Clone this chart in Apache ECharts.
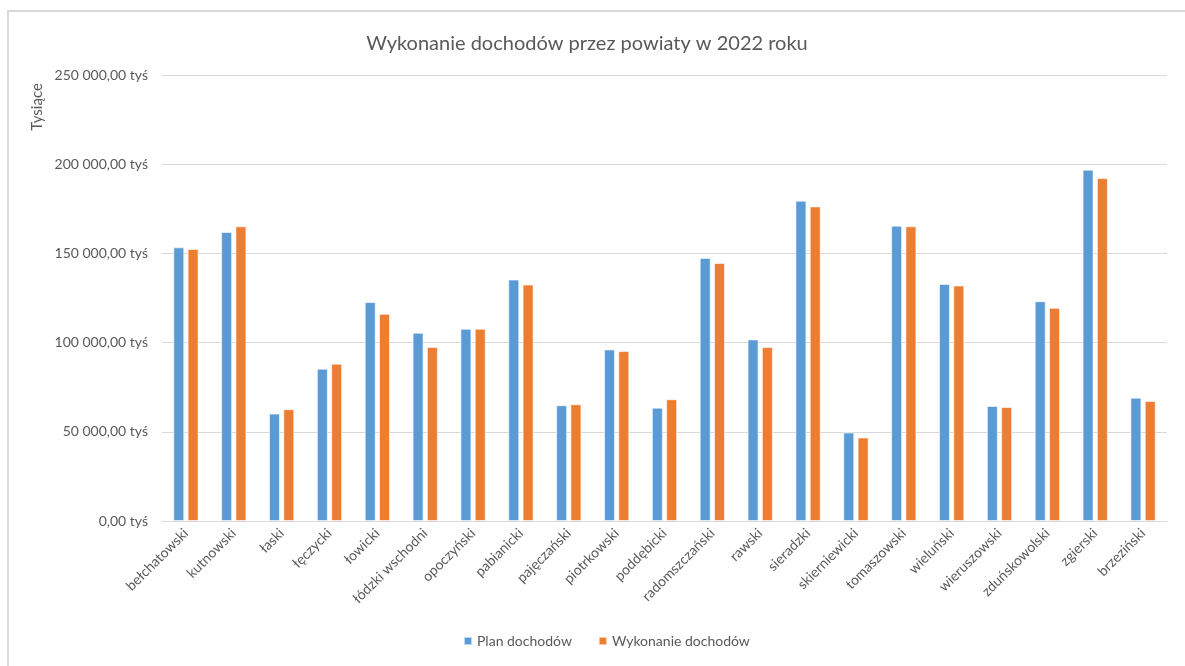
<!DOCTYPE html>
<html>
<head>
<meta charset="utf-8">
<script src="https://cdn.jsdelivr.net/npm/echarts@6/dist/echarts.min.js"></script>
<style>
  html, body { margin: 0; padding: 0; background: #fff; overflow: hidden; }
  #frame {
    position: absolute; left: 7px; top: 10px; width: 1300px; height: 800px;
    border-left: 2px solid #d9d9d9; border-top: 2px solid #d9d9d9;
  }
  #main { position: absolute; left: 0; top: 0; width: 1185px; height: 666px; }
</style>
</head>
<body>
<div id="frame"></div>
<div id="main"></div>
<script>
const powiaty = [
  'bełchatowski', 'kutnowski', 'łaski', 'łęczycki', 'łowicki', 'łódzki wschodni',
  'opoczyński', 'pabianicki', 'pajęczański', 'piotrkowski', 'poddębicki',
  'radomszczański', 'rawski', 'sieradzki', 'skierniewicki', 'tomaszowski',
  'wieluński', 'wieruszowski', 'zduńskowolski', 'zgierski', 'brzeziński'
];

// values in thousands (tys. zł)
const planDochodow = [
  153400, 162000, 60200, 85400, 122700, 105500,
  107750, 135350, 64900, 96200, 63550,
  147450, 101800, 179550, 49600, 165550,
  132900, 64500, 123200, 196900, 69150
];
const wykonanieDochodow = [
  152500, 165200, 62650, 88200, 116150, 97500,
  107750, 132550, 65450, 95250, 68250,
  144650, 97500, 176350, 46800, 165200,
  132000, 63950, 119500, 192200, 67300
];

const yTicks = [0, 50000, 100000, 150000, 200000, 250000];

const textColor = '#595959';
const fontFamily = 'Lato, "Open Sans", sans-serif';

// 250000 -> "250 000,00 tyś"
function formatTys(v) {
  const s = String(Math.round(v)).replace(/\B(?=(\d{3})+(?!\d))/g, ' ');
  return s + ',00 tyś';
}

const myChart = echarts.init(document.getElementById('main'));

const option = {
  animation: false,
  textStyle: { fontFamily: fontFamily, color: textColor },
  title: {
    text: 'Wykonanie dochodów przez powiaty w 2022 roku',
    left: 582,
    top: 29,
    textAlign: 'center',
    textStyle: {
      color: textColor,
      fontSize: 20,
      fontWeight: 'normal',
      fontFamily: fontFamily,
    },
  },
  graphic: [
    {
      type: 'text',
      x: 37,
      y: 107,
      rotation: Math.PI / 2,
      style: {
        text: 'Tysiące',
        fill: textColor,
        font: '15px ' + fontFamily,
        textAlign: 'center',
        textVerticalAlign: 'middle',
      },
    },
  ],
  legend: {
    bottom: 13,
    left: 458,
    itemWidth: 8,
    itemHeight: 8,
    itemGap: 26,
    icon: 'rect',
    textStyle: { color: textColor, fontSize: 14, fontFamily: fontFamily },
    data: ['Plan dochodów', 'Wykonanie dochodów'],
  },
  grid: {
    left: 162,
    right: 18,
    top: 75,
    bottom: 145,
  },
  xAxis: {
    type: 'category',
    data: powiaty,
    axisLine: { lineStyle: { color: '#d9d9d9', width: 1 } },
    axisTick: { show: false },
    axisLabel: {
      rotate: 45,
      color: textColor,
      fontSize: 14,
      fontFamily: fontFamily,
      interval: 0,
      margin: 10,
    },
  },
  yAxis: {
    type: 'value',
    min: yTicks[0],
    max: yTicks[yTicks.length - 1],
    interval: 50000,
    axisLine: { show: false },
    axisTick: { show: false },
    splitLine: { lineStyle: { color: '#d9d9d9', width: 1 } },
    axisLabel: {
      formatter: formatTys,
      color: textColor,
      fontSize: 14,
      fontFamily: fontFamily,
      margin: 14,
    },
  },
  series: [
    {
      name: 'Plan dochodów',
      type: 'bar',
      barWidth: 11,
      barGap: '30%',
      itemStyle: {
        color: '#5b9bd5',
        borderColor: 'rgba(255,255,255,0.6)',
        borderWidth: 1,
      },
      data: planDochodow,
    },
    {
      name: 'Wykonanie dochodów',
      type: 'bar',
      barWidth: 11,
      barGap: '30%',
      itemStyle: {
        color: '#ed7d31',
        borderColor: 'rgba(255,255,255,0.6)',
        borderWidth: 1,
      },
      data: wykonanieDochodow,
    },
  ],
};

myChart.setOption(option);
</script>
</body>
</html>
